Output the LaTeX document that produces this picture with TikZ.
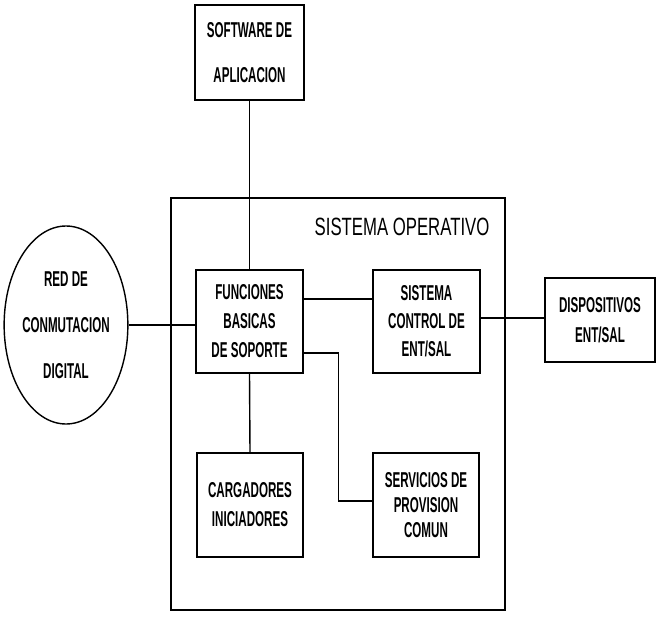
\documentclass[tikz,border=0pt]{standalone}
\usepackage{fontspec}
\setmainfont{Liberation Sans}[FakeStretch=0.6]
\newfontfamily\boxfont{Liberation Sans Bold}[FakeStretch=0.54]
\newfontfamily\osfont{Liberation Sans}[FakeStretch=0.67]
\usetikzlibrary{shapes.geometric}
\begin{document}
\begin{tikzpicture}[x=1pt,y=-1pt,
  lw/.style={line width=1.4pt},
  boxnode/.style={draw, lw, inner sep=0pt, align=center, font=\boxfont\fontsize{21.5}{29}\selectfont},
  wire/.style={lw}]
\useasboundingbox (0,0) rectangle (660,629);
% operating system frame
\node[draw, lw, inner sep=0pt, minimum width=334pt, minimum height=412pt] (os) at (338,404) {};
\node[inner sep=0pt, font=\osfont\fontsize{25}{30}\selectfont] (oslabel) at (402,227) {SISTEMA OPERATIVO};
% boxes
\node[boxnode, minimum width=109pt, minimum height=95pt] (soft) at (249.5,52.5) {SOFTWARE DE\\[16pt]APLICACION};
\node[boxnode, minimum width=107pt, minimum height=103pt] (fun) at (249.5,321.5) {FUNCIONES\\BASICAS\\DE SOPORTE};
\node[boxnode, minimum width=107pt, minimum height=103pt] (sc) at (426.5,321.5) {SISTEMA\\[-1pt]CONTROL DE\\[-1pt]ENT/SAL};
\node[boxnode, minimum width=110pt, minimum height=84pt] (disp) at (600,320) {DISPOSITIVOS\\[1pt]ENT/SAL};
\node[boxnode, minimum width=106pt, minimum height=104pt] (carg) at (250,505) {CARGADORES\\INICIADORES};
\node[boxnode, minimum width=106pt, minimum height=104pt] (serv) at (426,505) {SERVICIOS DE\\[-4pt]PROVISION\\[-4pt]COMUN};
\node[boxnode, ellipse, minimum width=113pt, minimum height=198pt] (red) at (66,325) {RED DE\\[17pt]CONMUTACION\\[17pt]DIGITAL};
% connectors
\draw[wire] (soft.south) -- (fun.north);
\draw[wire] (fun.south) -- (carg.north);
\draw[wire] (red.east) -- (red.east -| fun.west);
\draw[wire] ([yshift=22.5pt]fun.east) -- ([yshift=22.5pt]sc.west);
\draw[wire] ([yshift=3.5pt]sc.east) -- ([yshift=3.5pt]sc.east -| disp.west);
\draw[wire] ([yshift=-31.5pt]fun.east) -- ++(35pt,0) |- ([yshift=4pt]serv.west);
\end{tikzpicture}
\end{document}
